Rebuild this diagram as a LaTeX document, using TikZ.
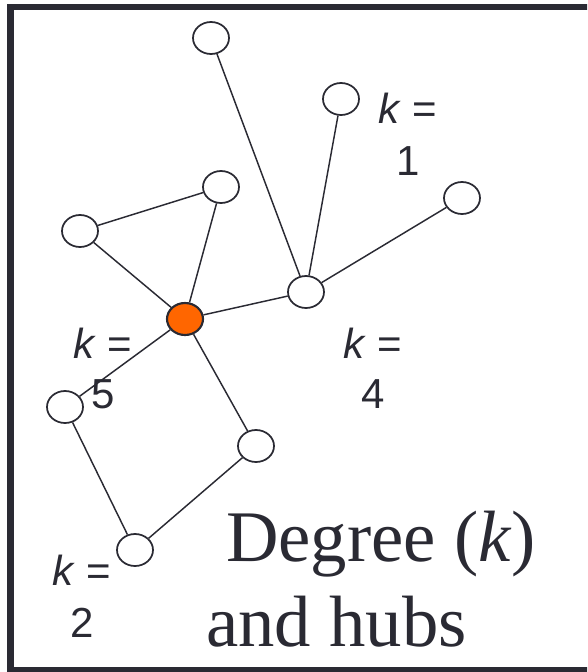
\documentclass[tikz,border=0pt]{standalone}
\usepackage{fontspec}
\setmainfont{Liberation Serif}
\newfontfamily\labfont{Liberation Sans}
\usetikzlibrary{shapes.geometric}
\definecolor{ink}{HTML}{2A2A33}
\definecolor{hub}{HTML}{FF6600}
\begin{document}
\begin{tikzpicture}[x=0.75pt,y=-0.75pt,
  vert/.style={ellipse,draw=ink,line width=1.3pt,fill=white,minimum width=27pt,minimum height=24pt,inner sep=0pt},
  hubvert/.style={vert,fill=hub,line width=1.6pt},
  edge/.style={draw=ink,line width=1.1pt},
  klab/.style={text=ink,font=\labfont\fontsize{31.5}{36}\selectfont,anchor=base,inner sep=0pt},
  title/.style={text=ink,font=\fontsize{54.5}{62}\selectfont,anchor=base west,inner sep=0pt}]
\useasboundingbox (0,0) rectangle (587,672);
\begin{scope}
\clip (0,0) rectangle (587,672);
\draw[ink,line width=5pt] (10.5,7) rectangle (592,670.5);
\end{scope}
\node[vert] (top) at (211,38) {};
\node[vert] (kone) at (341,99) {};
\node[vert] (right) at (462,198) {};
\node[vert] (hfour) at (306,292) {};
\node[vert] (triR) at (221,187) {};
\node[vert] (triL) at (80,231) {};
\node[hubvert] (hfive) at (185,319) {};
\node[vert] (left) at (65,407) {};
\node[vert] (rlow) at (256,446) {};
\node[vert] (bottom) at (135,550) {};
\draw[edge] (top) -- (hfour);
\draw[edge] (kone) -- (hfour);
\draw[edge] (right) -- (hfour);
\draw[edge] (triR) -- (triL);
\draw[edge] (triR) -- (hfive);
\draw[edge] (triL) -- (hfive);
\draw[edge] (hfive) -- (hfour);
\draw[edge] (hfive) -- (left);
\draw[edge] (hfive) -- (rlow);
\draw[edge] (left) -- (bottom);
\draw[edge] (bottom) -- (rlow);
\node[klab] (k1a) at (408,123) {\textit{k} =};
\node[klab] (k1b) at (408,175) {1};
\node[klab] (k4a) at (373,358) {\textit{k} =};
\node[klab] (k4b) at (373,408) {4};
\node[klab] (k5a) at (103,358) {\textit{k} =};
\node[klab] (k5b) at (103,408) {5};
\node[klab] (k2a) at (82,585) {\textit{k} =};
\node[klab] (k2b) at (82,637) {2};
\node[title] (t1) at (226,561) {Degree (\textit{k})};
\node[title] (t2) at (206,646) {and hubs};
\end{tikzpicture}
\end{document}
